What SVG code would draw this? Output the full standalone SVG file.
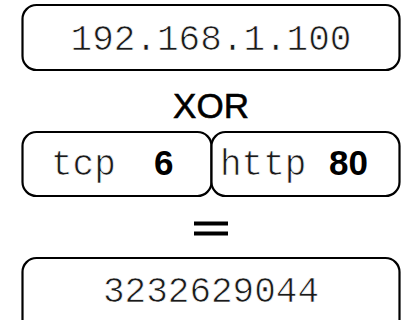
<svg xmlns="http://www.w3.org/2000/svg" width="404" height="320" viewBox="0 0 404 320">
<style>
.box{fill:#fff;stroke:#000;stroke-width:2.2}
.mono{font-family:"Liberation Mono","Courier New",monospace;font-size:36px;fill:#1a1a1a;stroke:#fff;stroke-width:0.7}
.bold{font-family:"Liberation Sans",Arial,sans-serif;font-weight:bold;font-size:35px;fill:#000}
.op{font-family:"Liberation Sans",Arial,sans-serif;font-size:35px;fill:#000;stroke:#000;stroke-width:0.6;text-anchor:middle}
</style>
<rect width="404" height="320" fill="#fff"/>
<g id="ip">
<rect class="box" x="22.5" y="5" width="377" height="65" rx="14"/>
<text class="mono" x="211" y="50" text-anchor="middle">192.168.1.100</text>
</g>
<g id="xor">
<text class="op" x="211" y="118">XOR</text>
</g>
<g id="tcp">
<rect class="box" x="22.5" y="132" width="189" height="64" rx="14"/>
<text class="mono" x="51" y="175">tcp</text>
<text class="bold" x="154" y="175">6</text>
</g>
<g id="http">
<rect class="box" x="211.5" y="132" width="188" height="64" rx="14"/>
<text class="mono" x="220" y="175">http</text>
<text class="bold" x="329" y="175">80</text>
</g>
<g id="equals">
<rect x="194" y="221.5" width="34" height="4"/>
<rect x="194" y="231.5" width="34" height="4"/>
</g>
<g id="result">
<rect class="box" x="22.5" y="258" width="377" height="80" rx="14"/>
<text class="mono" x="211" y="302" text-anchor="middle">3232629044</text>
</g>
<g id="connectors"></g>
</svg>
